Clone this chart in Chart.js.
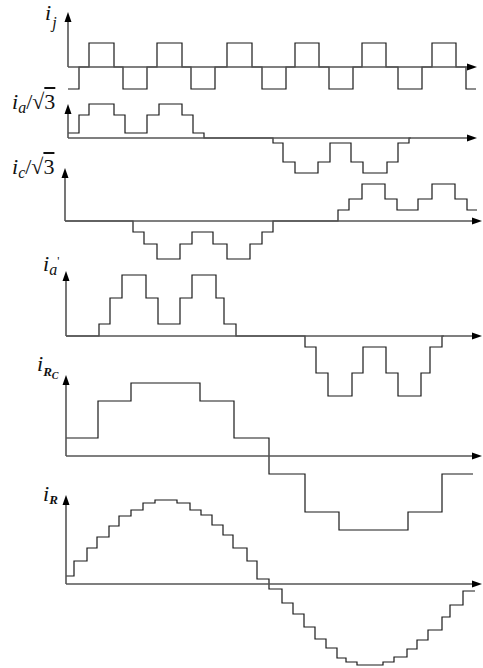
<!DOCTYPE html>
<html>
<head>
<meta charset="utf-8">
<script src="https://cdn.jsdelivr.net/npm/chart.js@4"></script>
<style>
  html, body { margin: 0; padding: 0; background: #fff; }
  #wrap { position: relative; width: 483px; height: 668px; overflow: hidden; }
  #wrap canvas { position: absolute; left: 0; }
  .lbl { position: absolute; font: italic 22px "Liberation Serif", "DejaVu Serif", serif; line-height: 22px; white-space: nowrap; color: #111; }
  .lbl .rm { font-style: normal; }
  .lbl .ov { text-decoration: overline; }
  .lbl sub, .lbl sup { line-height: 0; }
</style>
</head>
<body>
<div id="wrap">
  <div class="lbl" style="left:45px;top:2px"><i>i</i><sub style="font-size:16px;vertical-align:-8px;margin-left:1px">j</sub></div>
  <div class="lbl" style="left:12px;top:91px"><i>i</i><sub style="font-size:16px;vertical-align:-4px">a</sub><span class="rm">/√<span class="ov">3</span></span></div>
  <div class="lbl" style="left:12px;top:156px"><i>i</i><sub style="font-size:16px;vertical-align:-4px">c</sub><span class="rm">/√<span class="ov">3</span></span></div>
  <div class="lbl" style="left:43px;top:253px"><i>i</i><sub style="font-size:16px;vertical-align:-4px">a</sub><span class="rm" style="font-size:12px;position:relative;top:-6px">'</span></div>
  <div class="lbl" style="left:37px;top:353px"><i>i</i><sub style="font-size:13px;font-weight:bold;vertical-align:-5px">R<sub style="font-size:10px;vertical-align:-3px">C</sub></sub></div>
  <div class="lbl" style="left:43px;top:483px"><i>i</i><sub style="font-size:13px;font-weight:bold;vertical-align:-3px">R</sub></div>
</div>
<script>
// time axis: 1 unit ~ 1 px of the drawing, 0 = origin of the lower panels
const xMin = -66;
const xMax = 417;

// i_j : square-ish pulses
const ijEdges = [2, 13, 23, 48, 57, 81, 91, 116, 125, 149, 161, 186, 196, 220, 229, 253, 263, 287, 296, 320, 332, 356, 366, 390, 400, 410];
const ijLevels = [-22, 0, 24, 0, -22, 0, 24, 0, -22, 0, 24, 0, -22, 0, 24, 0, -22, 0, 24, 0, -22, 0, 24, 0, -22];

// i_a / sqrt(3)
const iaEdges = [2, 13, 23, 48, 59, 81, 93, 116, 127, 138, 207, 217, 229, 252, 264, 285, 297, 321, 332, 343, 345];
const iaLevels = [5, 23, 34, 23, 5, 23, 34, 23, 5, 0, -5, -24, -35, -24, -5, -24, -35, -24, -5, 0];

// i_c / sqrt(3)
const icEdges = [-1, 67, 78, 91, 114, 126, 147, 161, 184, 196, 207, 272, 283, 296, 319, 331, 352, 366, 389, 401, 411];
const icLevels = [0, -11, -23, -38, -23, -11, -23, -38, -23, -11, 0, 11, 22, 37, 22, 11, 22, 37, 22, 11];

// i_a'
const iapEdges = [0, 33, 44, 56, 80, 92, 114, 126, 150, 158, 170, 239, 250, 262, 286, 297, 320, 332, 355, 364, 376, 378];
const iapLevels = [0, 12, 38, 61, 38, 12, 38, 61, 38, 12, 0, -11, -37, -60, -37, -11, -37, -60, -37, -11, 0];

// i_Rc
const ircEdges = [0, 32, 65, 134, 168, 203, 239, 273, 342, 376, 407];
const ircLevels = [18, 55, 73, 55, 18, -18, -56, -74, -56, -18];

// i_R : staircase sine
const irEdges = [0, 8, 21, 31, 43, 53, 65, 77, 89, 111, 124, 135, 146, 157, 167, 181, 191, 203, 216, 227, 238, 249, 260, 271, 280, 291, 317, 328, 341, 351, 362, 376, 384, 397, 409];
const irLevels = [8, 23, 36, 47, 58, 68, 74, 81, 84, 81, 74, 69, 59, 49, 36, 23, 5, -5, -19, -30, -43, -55, -64, -74, -78, -81, -78, -73, -65, -56, -46, -33, -21, -7];

const series = [
  { edges: ijEdges, levels: ijLevels },
  { edges: iaEdges, levels: iaLevels },
  { edges: icEdges, levels: icLevels },
  { edges: iapEdges, levels: iapLevels },
  { edges: ircEdges, levels: ircLevels },
  { edges: irEdges, levels: irLevels }
];

// layout of each panel (page pixel of the zero line, value range shown, axis extents)
const panels = [
  { origin: 67,  top: 57, bottom: -24, axisX: 2,  tipY: 55, tipX: 411 },
  { origin: 138, top: 37, bottom: -38, axisX: 2,  tipY: 34, tipX: 411 },
  { origin: 221, top: 55, bottom: -40, axisX: -1, tipY: 53, tipX: 416 },
  { origin: 336, top: 67, bottom: -62, axisX: 0,  tipY: 65, tipX: 416 },
  { origin: 456, top: 83, bottom: -76, axisX: 0,  tipY: 81, tipX: 416 },
  { origin: 584, top: 91, bottom: -83, axisX: 0,  tipY: 89, tipX: 416 }
];

function toPoints(edges, levels) {
  const pts = edges.slice(0, levels.length).map((x, i) => ({ x: x, y: levels[i] }));
  pts.push({ x: edges[edges.length - 1], y: levels[levels.length - 1] });
  return pts;
}

const axesPlugin = {
  id: 'arrowAxes',
  afterDatasetsDraw(chart, args, opts) {
    const ctx = chart.ctx;
    const xs = chart.scales.x, ys = chart.scales.y;
    const x0 = xs.getPixelForValue(opts.axisX);
    const y0 = ys.getPixelForValue(0);
    const yt = ys.getPixelForValue(opts.tipY);
    const xt = xs.getPixelForValue(opts.tipX);
    const head = 10, half = 3.5;
    ctx.save();
    ctx.strokeStyle = '#555';
    ctx.lineWidth = 1.6;
    ctx.beginPath();
    ctx.moveTo(x0, y0);
    ctx.lineTo(x0, yt + head - 1);
    ctx.moveTo(x0, y0);
    ctx.lineTo(xt - head + 1, y0);
    ctx.stroke();
    ctx.fillStyle = '#000';
    ctx.beginPath();
    ctx.moveTo(x0, yt);
    ctx.lineTo(x0 - half, yt + head);
    ctx.lineTo(x0 + half, yt + head);
    ctx.closePath();
    ctx.fill();
    ctx.beginPath();
    ctx.moveTo(xt, y0);
    ctx.lineTo(xt - head, y0 - half);
    ctx.lineTo(xt - head, y0 + half);
    ctx.closePath();
    ctx.fill();
    ctx.restore();
  }
};

const wrap = document.getElementById('wrap');
panels.forEach((p, i) => {
  const canvas = document.createElement('canvas');
  const h = p.top - p.bottom;
  canvas.width = 483;
  canvas.height = h;
  canvas.style.top = (p.origin - p.top) + 'px';
  canvas.style.width = '483px';
  canvas.style.height = h + 'px';
  wrap.appendChild(canvas);

  new Chart(canvas.getContext('2d'), {
    type: 'line',
    data: {
      datasets: [{
        data: toPoints(series[i].edges, series[i].levels),
        stepped: true,
        borderColor: '#1a1a1a',
        borderWidth: 1.2,
        pointRadius: 0,
        fill: false
      }]
    },
    options: {
      responsive: false,
      animation: false,
      events: [],
      layout: { padding: 0 },
      scales: {
        x: { type: 'linear', display: false, min: xMin, max: xMax },
        y: { type: 'linear', display: false, min: p.bottom, max: p.top }
      },
      plugins: {
        legend: { display: false },
        tooltip: { enabled: false },
        arrowAxes: { axisX: p.axisX, tipY: p.tipY, tipX: p.tipX }
      }
    },
    plugins: [axesPlugin]
  });
});
</script>
</body>
</html>
